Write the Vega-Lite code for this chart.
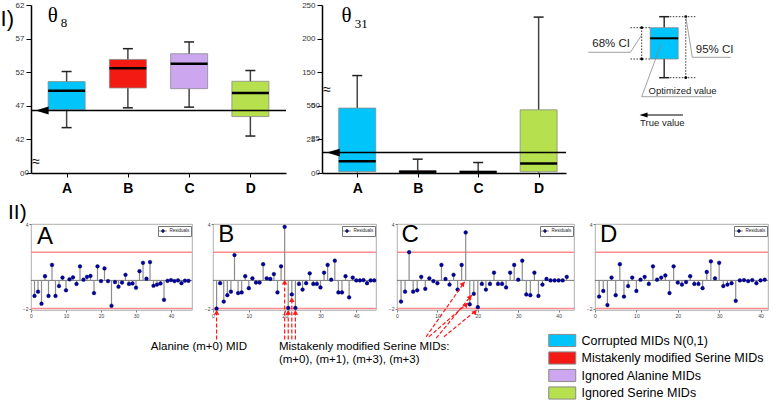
{
 "$schema": "https://vega.github.io/schema/vega-lite/v6.json",
 "padding": {"left": 0, "top": 1, "right": 0, "bottom": 0},
 "background": "white",
 "config": {"view": {"stroke": null}, "font": "Liberation Sans", "axis": {"grid": false}},
 "datasets": {
  "theta8": [
   {"method": "A", "pos": 1, "group": "Corrupted MIDs N(0,1)", "lo": 43.75, "q1": 46.4, "med": 49.25, "q3": 50.6, "hi": 52.1},
   {"method": "B", "pos": 2, "group": "Mistakenly modified Serine MIDs", "lo": 46.7, "q1": 49.65, "med": 52.6, "q3": 53.9, "hi": 55.5},
   {"method": "C", "pos": 3, "group": "Ignored Alanine MIDs", "lo": 46.8, "q1": 49.55, "med": 53.25, "q3": 54.75, "hi": 56.5},
   {"method": "D", "pos": 4, "group": "Ignored Serine MIDs", "lo": 42.5, "q1": 45.4, "med": 48.9, "q3": 50.65, "hi": 52.25}
  ],
  "theta31": [
   {"method": "A", "pos": 1, "group": "Corrupted MIDs N(0,1)", "lo": 0.3, "q1": 1, "med": 8.8, "q3": 48.3, "hi": 145},
   {"method": "B", "pos": 2, "group": "Mistakenly modified Serine MIDs", "lo": 0.2, "q1": 0.3, "med": 1, "q3": 1.6, "hi": 10.3},
   {"method": "C", "pos": 3, "group": "Ignored Alanine MIDs", "lo": 0.2, "q1": 0.3, "med": 0.8, "q3": 1.3, "hi": 7.8},
   {"method": "D", "pos": 4, "group": "Ignored Serine MIDs", "lo": 0.3, "q1": 1, "med": 7.1, "q3": 47, "hi": 232}
  ],
  "resA": [{"i":1,"r":-1.1},{"i":2,"r":-0.8},{"i":3,"r":-1.65},{"i":4,"r":0.3},{"i":5,"r":-1.1},{"i":6,"r":1.1},{"i":7,"r":-1.1},{"i":8,"r":-0.4},{"i":9,"r":0.2},{"i":10,"r":-0.7},{"i":11,"r":0.08},{"i":12,"r":0.22},{"i":13,"r":-0.25},{"i":14,"r":1.0},{"i":15,"r":0.05},{"i":16,"r":0.25},{"i":17,"r":0.32},{"i":18,"r":-0.9},{"i":19,"r":1.0},{"i":20,"r":-0.05},{"i":21,"r":0.85},{"i":22,"r":-0.05},{"i":23,"r":-1.8},{"i":24,"r":-0.12},{"i":25,"r":-0.45},{"i":26,"r":-0.15},{"i":27,"r":0.4},{"i":28,"r":-0.25},{"i":29,"r":-0.22},{"i":30,"r":-0.52},{"i":31,"r":0.65},{"i":32,"r":1.25},{"i":33,"r":0.12},{"i":34,"r":1.3},{"i":35,"r":-0.38},{"i":36,"r":-0.3},{"i":37,"r":-0.22},{"i":38,"r":-1.38},{"i":39,"r":-0.03},{"i":40,"r":0.02},{"i":41,"r":-0.05},{"i":42,"r":0.0},{"i":43,"r":-0.2},{"i":44,"r":-0.02},{"i":45,"r":-0.03}],
  "resB": [{"i":1,"r":-2.0},{"i":2,"r":-0.2},{"i":3,"r":-1.5},{"i":4,"r":-1.05},{"i":5,"r":-0.8},{"i":6,"r":1.8},{"i":7,"r":-0.9},{"i":8,"r":-0.85},{"i":9,"r":0.3},{"i":10,"r":-0.55},{"i":11,"r":0.15},{"i":12,"r":-0.15},{"i":13,"r":-0.15},{"i":14,"r":1.15},{"i":15,"r":0.15},{"i":16,"r":0.1},{"i":17,"r":0.45},{"i":18,"r":-0.85},{"i":19,"r":1.0},{"i":20,"r":3.8},{"i":21,"r":-1.95},{"i":22,"r":-1.0},{"i":23,"r":-1.95},{"i":24,"r":-0.25},{"i":25,"r":-0.65},{"i":26,"r":-0.2},{"i":27,"r":0.5},{"i":28,"r":-0.25},{"i":29,"r":-0.25},{"i":30,"r":-0.5},{"i":31,"r":0.55},{"i":32,"r":1.1},{"i":33,"r":0.05},{"i":34,"r":1.4},{"i":35,"r":-0.85},{"i":36,"r":-0.85},{"i":37,"r":0.3},{"i":38,"r":-1.2},{"i":39,"r":0.2},{"i":40,"r":0.0},{"i":41,"r":0.0},{"i":42,"r":0.02},{"i":43,"r":-0.2},{"i":44,"r":0.0},{"i":45,"r":0.0}],
  "resC": [{"i":1,"r":-1.5},{"i":2,"r":-0.8},{"i":3,"r":2.0},{"i":4,"r":-0.8},{"i":5,"r":-0.7},{"i":6,"r":0.25},{"i":7,"r":-0.6},{"i":8,"r":0.15},{"i":9,"r":-0.05},{"i":10,"r":-0.2},{"i":11,"r":1.1},{"i":12,"r":0.1},{"i":13,"r":-0.3},{"i":14,"r":0.4},{"i":15,"r":-0.65},{"i":16,"r":1.1},{"i":17,"r":3.4},{"i":18,"r":-1.7},{"i":19,"r":-0.95},{"i":20,"r":-1.9},{"i":21,"r":-0.25},{"i":22,"r":-0.65},{"i":23,"r":-0.25},{"i":24,"r":0.55},{"i":25,"r":-0.25},{"i":26,"r":-0.25},{"i":27,"r":-0.5},{"i":28,"r":0.55},{"i":29,"r":1.1},{"i":30,"r":0.05},{"i":31,"r":1.4},{"i":32,"r":-1.0},{"i":33,"r":-1.05},{"i":34,"r":0.55},{"i":35,"r":-1.1},{"i":36,"r":-0.3},{"i":37,"r":0.1},{"i":38,"r":0.0},{"i":39,"r":0.0},{"i":40,"r":0.0},{"i":41,"r":0.0},{"i":42,"r":0.25}],
  "resD": [{"i":1,"r":-1.15},{"i":2,"r":-0.75},{"i":3,"r":-1.75},{"i":4,"r":0.2},{"i":5,"r":-1.05},{"i":6,"r":1.15},{"i":7,"r":-1.15},{"i":8,"r":-0.4},{"i":9,"r":0.2},{"i":10,"r":-0.75},{"i":11,"r":0.05},{"i":12,"r":0.25},{"i":13,"r":-0.25},{"i":14,"r":1.0},{"i":15,"r":0.05},{"i":16,"r":0.2},{"i":17,"r":0.35},{"i":18,"r":-0.9},{"i":19,"r":1.0},{"i":20,"r":-0.15},{"i":21,"r":-0.3},{"i":22,"r":-0.12},{"i":23,"r":0.3},{"i":24,"r":-0.25},{"i":25,"r":-0.25},{"i":26,"r":-0.55},{"i":27,"r":0.6},{"i":28,"r":1.35},{"i":29,"r":0.15},{"i":30,"r":1.25},{"i":31,"r":-0.4},{"i":32,"r":-0.3},{"i":33,"r":-0.2},{"i":34,"r":-1.45},{"i":35,"r":0.0},{"i":36,"r":0.02},{"i":37,"r":-0.05},{"i":38,"r":0.02},{"i":39,"r":-0.2},{"i":40,"r":0.0},{"i":41,"r":0.05}]
 },
 "columns": 1,
 "spacing": 6,
 "concat": [
  {"bounds": "flush", "spacing": 36, "hconcat": [
    {"width": 255, "height": 168, "data": {"name": "theta8"},
     "layer": [
      {"mark": {"type": "rule", "color": "#444", "strokeWidth": 1.5},
       "encoding": {
        "x": {"field": "pos", "type": "quantitative", "scale": {"domain": [0.5, 4.5], "nice": false, "zero": false},
              "axis": {"values": [1, 2, 3, 4], "labelExpr": "['A','B','C','D'][datum.value - 1]", "labelFontSize": 14, "labelFontWeight": "bold", "labelColor": "black", "labelFlush": false, "tickSize": 4, "tickColor": "black", "domainColor": "black", "domainWidth": 1.5, "labelPadding": 4, "title": null}},
        "y": {"field": "lo", "type": "quantitative", "scale": {"domain": [37, 62], "nice": false, "zero": false},
              "axis": {"values": [37, 42, 47, 52, 57, 62], "tickCount": 100, "format": "d", "labelOverlap": false, "labelExpr": "datum.value == 37 ? '0' : datum.label", "tickSize": 5, "tickColor": "black", "domainColor": "black", "domainWidth": 1.5, "labelFontSize": 8, "labelColor": "#333", "labelPadding": 2, "title": null}},
        "y2": {"field": "hi"}}},
      {"mark": {"type": "bar", "orient": "vertical", "width": 37, "stroke": "#8a8a8a", "strokeWidth": 0.8, "opacity": 1},
       "encoding": {
        "x": {"field": "pos", "type": "quantitative"},
        "y": {"field": "q1", "type": "quantitative"},
        "y2": {"field": "q3"},
        "fill": {"field": "group", "type": "nominal",
                 "scale": {"domain": ["Corrupted MIDs N(0,1)", "Mistakenly modified Serine MIDs", "Ignored Alanine MIDs", "Ignored Serine MIDs"], "range": ["#00C4FA", "#F41A14", "#CDA6F0", "#B6E04E"]},
                 "legend": {"title": null, "orient": "none", "direction": "vertical", "legendX": 523.75, "legendY": 328, "padding": 0, "symbolType": "M-2,-0.9H2V0.9H-2Z", "symbolSize": 182, "symbolStrokeColor": "#5a6b8c", "symbolStrokeWidth": 1, "symbolOpacity": 1, "labelFontSize": 12.5, "labelFont": "Liberation Sans", "labelColor": "black", "labelOffset": 11.75, "rowPadding": 0.5, "labelLimit": 400}}}},
      {"mark": {"type": "tick", "orient": "horizontal", "size": 37, "thickness": 2.5, "color": "black", "opacity": 1},
       "encoding": {"x": {"field": "pos", "type": "quantitative"}, "y": {"field": "med", "type": "quantitative"}}},
      {"mark": {"type": "tick", "orient": "horizontal", "size": 10, "thickness": 1.5, "color": "#222", "opacity": 1},
       "encoding": {"x": {"field": "pos", "type": "quantitative"}, "y": {"field": "hi", "type": "quantitative"}}},
      {"mark": {"type": "tick", "orient": "horizontal", "size": 10, "thickness": 1.5, "color": "#222", "opacity": 1},
       "encoding": {"x": {"field": "pos", "type": "quantitative"}, "y": {"field": "lo", "type": "quantitative"}}},
      {"data": {"values": [{}]}, "mark": {"type": "rule", "color": "black", "strokeWidth": 1.5},
       "encoding": {"y": {"datum": 46.3, "type": "quantitative"}}},
      {"data": {"values": [{}]}, "mark": {"type": "point", "shape": "M-1,0L1,-0.6L1,0.6Z", "size": 169, "filled": true, "color": "black", "opacity": 1},
       "encoding": {"x": {"datum": 0.6, "type": "quantitative"}, "y": {"datum": 46.3, "type": "quantitative"}}},
      {"data": {"values": [{}]}, "mark": {"type": "text", "text": "≈", "fontSize": 14, "color": "black", "baseline": "middle"},
       "encoding": {"x": {"datum": 0.5, "type": "quantitative"}, "y": {"datum": 38.7, "type": "quantitative"}}},
      {"data": {"values": [{}]}, "mark": {"type": "text", "align": "right", "baseline": "middle", "fontSize": 8, "color": "#333", "dx": -7},
       "encoding": {"x": {"datum": 0.5, "type": "quantitative"}, "y": {"datum": 37, "type": "quantitative"}, "text": {"value": "0"}}},
      {"data": {"values": [{}]}, "mark": {"type": "text", "align": "left", "baseline": "middle", "font": "Liberation Serif", "fontSize": 21, "color": "black"},
       "encoding": {"x": {"datum": 0.69, "type": "quantitative"}, "y": {"datum": 60.4, "type": "quantitative"}, "text": {"value": "θ"}}},
      {"data": {"values": [{}]}, "mark": {"type": "text", "align": "left", "baseline": "middle", "font": "Liberation Serif", "fontSize": 13, "color": "black"},
       "encoding": {"x": {"datum": 0.906, "type": "quantitative"}, "y": {"datum": 59.3, "type": "quantitative"}, "text": {"value": "8"}}},
      {"data": {"values": [{}]}, "mark": {"type": "text", "align": "left", "baseline": "alphabetic", "fontSize": 22, "color": "black"},
       "encoding": {"x": {"datum": -0.078, "type": "quantitative"}, "y": {"datum": 58.9, "type": "quantitative"}, "text": {"value": "I)"}}}
     ]},
    {"width": 244, "height": 168, "data": {"name": "theta31"},
     "layer": [
      {"mark": {"type": "rule", "color": "#444", "strokeWidth": 1.5},
       "encoding": {
        "x": {"field": "pos", "type": "quantitative", "scale": {"domain": [0.5, 4.37], "nice": false, "zero": false},
              "axis": {"values": [1, 2, 3, 4], "labelExpr": "['A','B','C','D'][datum.value - 1]", "labelFontSize": 14, "labelFontWeight": "bold", "labelColor": "black", "labelFlush": false, "tickSize": 4, "tickColor": "black", "domainColor": "black", "domainWidth": 1.5, "labelPadding": 4, "title": null}},
        "y": {"field": "lo", "type": "quantitative", "scale": {"type": "linear", "domain": [0, 50, 100, 250], "range": [168, 100.8, 100.8, 0], "nice": false, "zero": false},
              "axis": {"values": [0, 25, 50, 150, 200, 250], "tickCount": 100, "format": "d", "labelOverlap": false, "tickSize": 5, "tickColor": "black", "domainColor": "black", "domainWidth": 1.5, "labelFontSize": 8, "labelColor": "#333", "labelPadding": 2, "title": null}},
        "y2": {"field": "hi"}}},
      {"mark": {"type": "bar", "orient": "vertical", "width": 37, "stroke": "#8a8a8a", "strokeWidth": 0.8, "opacity": 1},
       "encoding": {
        "x": {"field": "pos", "type": "quantitative"},
        "y": {"field": "q1", "type": "quantitative"},
        "y2": {"field": "q3"},
        "fill": {"field": "group", "type": "nominal"}}},
      {"mark": {"type": "tick", "orient": "horizontal", "size": 37, "thickness": 2.5, "color": "black", "opacity": 1},
       "encoding": {"x": {"field": "pos", "type": "quantitative"}, "y": {"field": "med", "type": "quantitative"}}},
      {"mark": {"type": "tick", "orient": "horizontal", "size": 10, "thickness": 1.5, "color": "#222", "opacity": 1},
       "encoding": {"x": {"field": "pos", "type": "quantitative"}, "y": {"field": "hi", "type": "quantitative"}}},
      {"data": {"values": [{}]}, "mark": {"type": "rule", "color": "black", "strokeWidth": 1.5},
       "encoding": {"y": {"datum": 15.2, "type": "quantitative"}}},
      {"data": {"values": [{}]}, "mark": {"type": "point", "shape": "M-1,0L1,-0.6L1,0.6Z", "size": 169, "filled": true, "color": "black", "opacity": 1},
       "encoding": {"x": {"datum": 0.603, "type": "quantitative"}, "y": {"datum": 15.2, "type": "quantitative"}}},
      {"data": {"values": [{}]}, "mark": {"type": "text", "text": "≈", "fontSize": 14, "color": "black", "baseline": "middle"},
       "encoding": {"x": {"datum": 0.5, "type": "quantitative"}, "y": {"datum": 123, "type": "quantitative"}}},
      {"data": {"values": [{}]}, "mark": {"type": "text", "align": "right", "baseline": "middle", "fontSize": 8, "color": "#333", "dx": -7},
       "encoding": {"x": {"datum": 0.5, "type": "quantitative"}, "y": {"datum": 0, "type": "quantitative"}, "text": {"value": "0"}}},
      {"data": {"values": [{}]}, "mark": {"type": "text", "align": "right", "baseline": "middle", "fontSize": 8, "color": "#333", "dx": -7},
       "encoding": {"x": {"datum": 0.5, "type": "quantitative"}, "y": {"datum": 25, "type": "quantitative"}, "text": {"value": "25"}}},
      {"data": {"values": [{}]}, "mark": {"type": "text", "align": "right", "baseline": "middle", "fontSize": 8, "color": "#333", "dx": -7},
       "encoding": {"x": {"datum": 0.5, "type": "quantitative"}, "y": {"datum": 50, "type": "quantitative"}, "text": {"value": "50"}}},
      {"data": {"values": [{}]}, "mark": {"type": "text", "align": "left", "baseline": "middle", "font": "Liberation Serif", "fontSize": 21, "color": "black"},
       "encoding": {"x": {"datum": 0.738, "type": "quantitative"}, "y": {"datum": 233, "type": "quantitative"}, "text": {"value": "θ"}}},
      {"data": {"values": [{}]}, "mark": {"type": "text", "align": "left", "baseline": "middle", "font": "Liberation Serif", "fontSize": 13, "color": "black"},
       "encoding": {"x": {"datum": 0.96, "type": "quantitative"}, "y": {"datum": 221, "type": "quantitative"}, "text": {"value": "31"}}}
     ]},
    {"width": 160, "height": 125,
     "data": {"values": [{"lo": 52.3, "q1": 71, "med": 91.7, "q3": 102.3, "hi": 113.3}]},
     "layer": [
      {"mark": {"type": "rule", "color": "black", "strokeWidth": 0.8, "strokeDash": [1.5, 1.5]},
       "encoding": {"x": {"datum": 48, "type": "quantitative", "scale": {"domain": [23, 183], "nice": false, "zero": false}, "axis": null}, "x2": {"datum": 70},
                    "y": {"field": "q3", "type": "quantitative", "scale": {"domain": [0, 125], "nice": false, "zero": false}, "axis": null}}},
      {"mark": {"type": "rule", "color": "black", "strokeWidth": 0.8, "strokeDash": [1.5, 1.5]},
       "encoding": {"x": {"datum": 48, "type": "quantitative"}, "x2": {"datum": 70}, "y": {"field": "q1", "type": "quantitative"}}},
      {"mark": {"type": "rule", "color": "black", "strokeWidth": 0.8, "strokeDash": [1.5, 1.5]},
       "encoding": {"x": {"datum": 60, "type": "quantitative"}, "y": {"field": "q1", "type": "quantitative"}, "y2": {"field": "q3"}}},
      {"mark": {"type": "rule", "color": "black", "strokeWidth": 0.8, "strokeDash": [1.5, 1.5]},
       "encoding": {"x": {"datum": 90, "type": "quantitative"}, "x2": {"datum": 118}, "y": {"field": "hi", "type": "quantitative"}}},
      {"mark": {"type": "rule", "color": "black", "strokeWidth": 0.8, "strokeDash": [1.5, 1.5]},
       "encoding": {"x": {"datum": 90, "type": "quantitative"}, "x2": {"datum": 118}, "y": {"field": "lo", "type": "quantitative"}}},
      {"mark": {"type": "rule", "color": "black", "strokeWidth": 0.8, "strokeDash": [1.5, 1.5]},
       "encoding": {"x": {"datum": 107, "type": "quantitative"}, "y": {"field": "lo", "type": "quantitative"}, "y2": {"field": "hi"}}},
      {"mark": {"type": "point", "filled": true, "size": 8, "color": "black", "opacity": 1},
       "encoding": {"x": {"datum": 60, "type": "quantitative"}, "y": {"field": "q3", "type": "quantitative"}}},
      {"mark": {"type": "point", "filled": true, "size": 8, "color": "black", "opacity": 1},
       "encoding": {"x": {"datum": 60, "type": "quantitative"}, "y": {"field": "q1", "type": "quantitative"}}},
      {"mark": {"type": "point", "filled": true, "size": 8, "color": "black", "opacity": 1},
       "encoding": {"x": {"datum": 107, "type": "quantitative"}, "y": {"field": "hi", "type": "quantitative"}}},
      {"mark": {"type": "point", "filled": true, "size": 8, "color": "black", "opacity": 1},
       "encoding": {"x": {"datum": 107, "type": "quantitative"}, "y": {"field": "lo", "type": "quantitative"}}},
      {"mark": {"type": "rule", "color": "#333", "strokeWidth": 1.5},
       "encoding": {"x": {"datum": 84, "type": "quantitative"}, "y": {"field": "q3", "type": "quantitative"}, "y2": {"field": "hi"}}},
      {"mark": {"type": "rule", "color": "#333", "strokeWidth": 1.5},
       "encoding": {"x": {"datum": 84, "type": "quantitative"}, "y": {"field": "lo", "type": "quantitative"}, "y2": {"field": "q1"}}},
      {"mark": {"type": "tick", "orient": "horizontal", "size": 10, "thickness": 1.5, "color": "#222", "opacity": 1},
       "encoding": {"x": {"datum": 84, "type": "quantitative"}, "y": {"field": "hi", "type": "quantitative"}}},
      {"mark": {"type": "tick", "orient": "horizontal", "size": 10, "thickness": 1.5, "color": "#222", "opacity": 1},
       "encoding": {"x": {"datum": 84, "type": "quantitative"}, "y": {"field": "lo", "type": "quantitative"}}},
      {"mark": {"type": "bar", "orient": "vertical", "width": 28, "fill": "#00C4FA", "stroke": "#8a8a8a", "strokeWidth": 0.8, "opacity": 1},
       "encoding": {"x": {"datum": 84, "type": "quantitative"}, "y": {"field": "q1", "type": "quantitative"}, "y2": {"field": "q3"}}},
      {"mark": {"type": "tick", "orient": "horizontal", "size": 28, "thickness": 2, "color": "black", "opacity": 1},
       "encoding": {"x": {"datum": 84, "type": "quantitative"}, "y": {"field": "med", "type": "quantitative"}}},
      {"mark": {"type": "rule", "color": "#888", "strokeWidth": 0.8},
       "encoding": {"x": {"datum": 3, "type": "quantitative"}, "x2": {"datum": 48}, "y": {"datum": 77.7, "type": "quantitative"}}},
      {"mark": {"type": "rule", "color": "#888", "strokeWidth": 0.8},
       "encoding": {"x": {"datum": 48, "type": "quantitative"}, "x2": {"datum": 60}, "y": {"datum": 77.7, "type": "quantitative"}, "y2": {"datum": 95}}},
      {"mark": {"type": "rule", "color": "#888", "strokeWidth": 0.8},
       "encoding": {"x": {"datum": 114, "type": "quantitative"}, "x2": {"datum": 155}, "y": {"datum": 72.7, "type": "quantitative"}}},
      {"mark": {"type": "rule", "color": "#888", "strokeWidth": 0.8},
       "encoding": {"x": {"datum": 107, "type": "quantitative"}, "x2": {"datum": 114}, "y": {"datum": 113.3, "type": "quantitative"}, "y2": {"datum": 72.7}}},
      {"mark": {"type": "rule", "color": "#888", "strokeWidth": 0.8},
       "encoding": {"x": {"datum": 60, "type": "quantitative"}, "x2": {"datum": 135}, "y": {"datum": 33.3, "type": "quantitative"}}},
      {"mark": {"type": "rule", "color": "#888", "strokeWidth": 0.8},
       "encoding": {"x": {"datum": 60, "type": "quantitative"}, "x2": {"datum": 81}, "y": {"datum": 33.3, "type": "quantitative"}, "y2": {"datum": 86.7}}},
      {"mark": {"type": "rule", "color": "black", "strokeWidth": 1.2},
       "encoding": {"x": {"datum": 60, "type": "quantitative"}, "x2": {"datum": 104}, "y": {"datum": 15, "type": "quantitative"}}},
      {"mark": {"type": "point", "shape": "M-1,0L1,-0.6L1,0.6Z", "size": 64, "filled": true, "color": "black", "opacity": 1},
       "encoding": {"x": {"datum": 62, "type": "quantitative"}, "y": {"datum": 15, "type": "quantitative"}}},
      {"mark": {"type": "text", "align": "left", "baseline": "middle", "fontSize": 11.5, "color": "#222"},
       "encoding": {"x": {"datum": 7.3, "type": "quantitative"}, "y": {"datum": 86.5, "type": "quantitative"}, "text": {"value": "68% CI"}}},
      {"mark": {"type": "text", "align": "left", "baseline": "middle", "fontSize": 11.5, "color": "#222"},
       "encoding": {"x": {"datum": 117.7, "type": "quantitative"}, "y": {"datum": 80, "type": "quantitative"}, "text": {"value": "95% CI"}}},
      {"mark": {"type": "text", "align": "left", "baseline": "middle", "fontSize": 9.5, "color": "#222"},
       "encoding": {"x": {"datum": 67.3, "type": "quantitative"}, "y": {"datum": 39, "type": "quantitative"}, "text": {"value": "Optimized value"}}},
      {"mark": {"type": "text", "align": "left", "baseline": "middle", "fontSize": 9.5, "color": "#222"},
       "encoding": {"x": {"datum": 58.3, "type": "quantitative"}, "y": {"datum": 6.7, "type": "quantitative"}, "text": {"value": "True value"}}}
     ]}
  ]},
  {"bounds": "flush", "spacing": 21,
   "resolve": {"scale": {"color": "independent"}, "legend": {"color": "independent"}},
   "hconcat": [
    {"width": 161, "height": 86, "view": {"stroke": "#9a9a9a", "strokeWidth": 0.8}, "data": {"name": "resA"},
     "layer": [
      {"data": {"values": [{}]}, "mark": {"type": "rule", "color": "#FF8C8C", "strokeWidth": 1.5}, "encoding": {"y": {"datum": 2, "type": "quantitative"}}},
      {"data": {"values": [{}]}, "mark": {"type": "rule", "color": "#FF8C8C", "strokeWidth": 1.5}, "encoding": {"y": {"datum": -2, "type": "quantitative"}}},
      {"data": {"values": [{}]}, "mark": {"type": "rule", "color": "#555", "strokeWidth": 0.8}, "encoding": {"y": {"datum": 0, "type": "quantitative"}}},
      {"mark": {"type": "rule", "color": "#8c8c8c", "strokeWidth": 1.2},
       "encoding": {
        "x": {"field": "i", "type": "quantitative", "scale": {"domain": [0, 46], "nice": false, "zero": false},
              "axis": {"values": [0, 5, 10, 15, 20, 25, 30, 35, 40, 45], "labelFontSize": 5, "labelColor": "#444", "tickSize": 2, "tickColor": "#777", "domain": false, "labelPadding": 1, "labelFlush": false, "title": null}},
        "y": {"field": "r", "type": "quantitative", "scale": {"domain": [-2.1, 4], "nice": false, "zero": false},
              "axis": {"values": [-2, -1, 0, 1, 2, 3, 4], "labelFontSize": 5, "labelColor": "#444", "tickSize": 2, "tickColor": "#777", "domain": false, "labelPadding": 1, "title": null}},
        "y2": {"datum": 0}}},
      {"mark": {"type": "point", "filled": true, "size": 14, "opacity": 1, "stroke": "#00003a", "strokeWidth": 0.4},
       "encoding": {"x": {"field": "i", "type": "quantitative"}, "y": {"field": "r", "type": "quantitative"},
        "color": {"datum": "Residuals", "type": "nominal", "scale": {"range": ["#0000A8"]},
                  "legend": {"title": null, "orient": "top-right", "offset": 1.5, "padding": 1.5, "strokeColor": "#777", "fillColor": "white", "labelFontSize": 4.5, "labelColor": "#222", "labelOffset": 3, "symbolType": "M-1.3,0H1.3M-0.5,0A0.5,0.5,0,1,1,0.5,0A0.5,0.5,0,1,1,-0.5,0", "symbolSize": 36, "symbolStrokeColor": "#333", "symbolStrokeWidth": 0.6, "cornerRadius": 0}}}},
      {"data": {"values": [{}]}, "mark": {"type": "text", "align": "left", "baseline": "middle", "fontSize": 24, "color": "black"},
       "encoding": {"x": {"datum": 1.7, "type": "quantitative"}, "y": {"datum": 3.1, "type": "quantitative"}, "text": {"value": "A"}}},
      {"data": {"values": [{}]}, "mark": {"type": "text", "align": "left", "baseline": "alphabetic", "fontSize": 21, "color": "black"},
       "encoding": {"x": {"datum": -6.57, "type": "quantitative"}, "y": {"datum": 4.355, "type": "quantitative"}, "text": {"value": "II)"}}}
     ]},
    {"width": 163, "height": 86, "view": {"stroke": "#9a9a9a", "strokeWidth": 0.8}, "data": {"name": "resB"},
     "layer": [
      {"data": {"values": [{}]}, "mark": {"type": "rule", "color": "#FF8C8C", "strokeWidth": 1.5}, "encoding": {"y": {"datum": 2, "type": "quantitative"}}},
      {"data": {"values": [{}]}, "mark": {"type": "rule", "color": "#FF8C8C", "strokeWidth": 1.5}, "encoding": {"y": {"datum": -2, "type": "quantitative"}}},
      {"data": {"values": [{}]}, "mark": {"type": "rule", "color": "#555", "strokeWidth": 0.8}, "encoding": {"y": {"datum": 0, "type": "quantitative"}}},
      {"mark": {"type": "rule", "color": "#8c8c8c", "strokeWidth": 1.2},
       "encoding": {
        "x": {"field": "i", "type": "quantitative", "scale": {"domain": [0, 45.5], "nice": false, "zero": false},
              "axis": {"values": [0, 5, 10, 15, 20, 25, 30, 35, 40, 45], "labelFontSize": 5, "labelColor": "#444", "tickSize": 2, "tickColor": "#777", "domain": false, "labelPadding": 1, "labelFlush": false, "title": null}},
        "y": {"field": "r", "type": "quantitative", "scale": {"domain": [-2.1, 4], "nice": false, "zero": false},
              "axis": {"values": [-2, -1, 0, 1, 2, 3, 4], "labelFontSize": 5, "labelColor": "#444", "tickSize": 2, "tickColor": "#777", "domain": false, "labelPadding": 1, "title": null}},
        "y2": {"datum": 0}}},
      {"mark": {"type": "point", "filled": true, "size": 14, "opacity": 1, "stroke": "#00003a", "strokeWidth": 0.4},
       "encoding": {"x": {"field": "i", "type": "quantitative"}, "y": {"field": "r", "type": "quantitative"},
        "color": {"datum": "Residuals", "type": "nominal", "scale": {"range": ["#0000A8"]},
                  "legend": {"title": null, "orient": "top-right", "offset": 1.5, "padding": 1.5, "strokeColor": "#777", "fillColor": "white", "labelFontSize": 4.5, "labelColor": "#222", "labelOffset": 3, "symbolType": "M-1.3,0H1.3M-0.5,0A0.5,0.5,0,1,1,0.5,0A0.5,0.5,0,1,1,-0.5,0", "symbolSize": 36, "symbolStrokeColor": "#333", "symbolStrokeWidth": 0.6, "cornerRadius": 0}}}},
      {"data": {"values": [{}]}, "mark": {"type": "text", "align": "left", "baseline": "middle", "fontSize": 24, "color": "black"},
       "encoding": {"x": {"datum": 1.5, "type": "quantitative"}, "y": {"datum": 3.2, "type": "quantitative"}, "text": {"value": "B"}}},
      {"data": {"values": [{"mid": 1, "from": -4.2, "tip": -2.1}, {"mid": 20, "from": -4.2, "tip": 0.05}, {"mid": 21, "from": -4.2, "tip": -2.1}, {"mid": 22, "from": -4.2, "tip": -1.2}, {"mid": 23, "from": -4.2, "tip": -2.1}]},
       "mark": {"type": "rule", "color": "#FF1A1A", "strokeWidth": 1.2, "strokeDash": [4, 2]},
       "encoding": {"x": {"field": "mid", "type": "quantitative"}, "y": {"field": "from", "type": "quantitative"}, "y2": {"field": "tip"}}},
      {"data": {"values": [{"mid": 1, "tip": -2.1}, {"mid": 20, "tip": 0.05}, {"mid": 21, "tip": -2.1}, {"mid": 22, "tip": -1.2}, {"mid": 23, "tip": -2.1}]},
       "mark": {"type": "point", "shape": "triangle-up", "size": 30, "filled": true, "color": "#FF1A1A", "opacity": 1, "yOffset": 2.4},
       "encoding": {"x": {"field": "mid", "type": "quantitative"}, "y": {"field": "tip", "type": "quantitative"}}},
      {"data": {"values": [{}]}, "mark": {"type": "text", "align": "right", "baseline": "middle", "fontSize": 11.5, "color": "black"},
       "encoding": {"x": {"datum": 9.5, "type": "quantitative"}, "y": {"datum": -4.75, "type": "quantitative"}, "text": {"value": "Alanine (m+0) MID"}}},
      {"data": {"values": [{}]}, "mark": {"type": "text", "align": "left", "baseline": "middle", "fontSize": 11.5, "color": "black"},
       "encoding": {"x": {"datum": 18.4, "type": "quantitative"}, "y": {"datum": -4.75, "type": "quantitative"}, "text": {"value": "Mistakenly modified Serine MIDs:"}}},
      {"data": {"values": [{}]}, "mark": {"type": "text", "align": "left", "baseline": "middle", "fontSize": 11.5, "color": "black"},
       "encoding": {"x": {"datum": 18.4, "type": "quantitative"}, "y": {"datum": -5.68, "type": "quantitative"}, "text": {"value": "(m+0), (m+1), (m+3), (m+3)"}}}
     ]},
    {"width": 177, "height": 86, "view": {"stroke": "#9a9a9a", "strokeWidth": 0.8}, "data": {"name": "resC"},
     "layer": [
      {"data": {"values": [{}]}, "mark": {"type": "rule", "color": "#FF8C8C", "strokeWidth": 1.5}, "encoding": {"y": {"datum": 2, "type": "quantitative"}}},
      {"data": {"values": [{}]}, "mark": {"type": "rule", "color": "#FF8C8C", "strokeWidth": 1.5}, "encoding": {"y": {"datum": -2, "type": "quantitative"}}},
      {"data": {"values": [{}]}, "mark": {"type": "rule", "color": "#555", "strokeWidth": 0.8}, "encoding": {"y": {"datum": 0, "type": "quantitative"}}},
      {"mark": {"type": "rule", "color": "#8c8c8c", "strokeWidth": 1.2},
       "encoding": {
        "x": {"field": "i", "type": "quantitative", "scale": {"domain": [0, 43.8], "nice": false, "zero": false},
              "axis": {"values": [0, 5, 10, 15, 20, 25, 30, 35, 40], "labelFontSize": 5, "labelColor": "#444", "tickSize": 2, "tickColor": "#777", "domain": false, "labelPadding": 1, "labelFlush": false, "title": null}},
        "y": {"field": "r", "type": "quantitative", "scale": {"domain": [-2.1, 4], "nice": false, "zero": false},
              "axis": {"values": [-2, -1, 0, 1, 2, 3, 4], "labelFontSize": 5, "labelColor": "#444", "tickSize": 2, "tickColor": "#777", "domain": false, "labelPadding": 1, "title": null}},
        "y2": {"datum": 0}}},
      {"mark": {"type": "point", "filled": true, "size": 14, "opacity": 1, "stroke": "#00003a", "strokeWidth": 0.4},
       "encoding": {"x": {"field": "i", "type": "quantitative"}, "y": {"field": "r", "type": "quantitative"},
        "color": {"datum": "Residuals", "type": "nominal", "scale": {"range": ["#0000A8"]},
                  "legend": {"title": null, "orient": "top-right", "offset": 1.5, "padding": 1.5, "strokeColor": "#777", "fillColor": "white", "labelFontSize": 4.5, "labelColor": "#222", "labelOffset": 3, "symbolType": "M-1.3,0H1.3M-0.5,0A0.5,0.5,0,1,1,0.5,0A0.5,0.5,0,1,1,-0.5,0", "symbolSize": 36, "symbolStrokeColor": "#333", "symbolStrokeWidth": 0.6, "cornerRadius": 0}}}},
      {"data": {"values": [{}]}, "mark": {"type": "text", "align": "left", "baseline": "middle", "fontSize": 24, "color": "black"},
       "encoding": {"x": {"datum": 1.1, "type": "quantitative"}, "y": {"datum": 3.2, "type": "quantitative"}, "text": {"value": "C"}}},
      {"data": {"values": [{"x0": 7.2, "y0": -4.0, "x1": 16.75, "y1": -0.1}, {"x0": 7.9, "y0": -4.0, "x1": 17.5, "y1": -1.6}, {"x0": 9.7, "y0": -4.1, "x1": 18.5, "y1": -1.04}, {"x0": 11.6, "y0": -4.0, "x1": 19.7, "y1": -2.1}]},
       "mark": {"type": "rule", "color": "#FF1A1A", "strokeWidth": 1.2, "strokeDash": [4, 2]},
       "encoding": {"x": {"field": "x0", "type": "quantitative"}, "y": {"field": "y0", "type": "quantitative"}, "x2": {"field": "x1"}, "y2": {"field": "y1"}}},
      {"data": {"values": [{"x1": 16.75, "y1": -0.1}, {"x1": 17.5, "y1": -1.6}, {"x1": 18.5, "y1": -1.04}, {"x1": 19.7, "y1": -2.1}]},
       "mark": {"type": "point", "shape": "triangle-up", "size": 30, "filled": true, "color": "#FF1A1A", "opacity": 1, "angle": 40, "xOffset": -1.5, "yOffset": 1.8},
       "encoding": {"x": {"field": "x1", "type": "quantitative"}, "y": {"field": "y1", "type": "quantitative"}}}
     ]},
    {"width": 173, "height": 86, "view": {"stroke": "#9a9a9a", "strokeWidth": 0.8}, "data": {"name": "resD"},
     "layer": [
      {"data": {"values": [{}]}, "mark": {"type": "rule", "color": "#FF8C8C", "strokeWidth": 1.5}, "encoding": {"y": {"datum": 2, "type": "quantitative"}}},
      {"data": {"values": [{}]}, "mark": {"type": "rule", "color": "#FF8C8C", "strokeWidth": 1.5}, "encoding": {"y": {"datum": -2, "type": "quantitative"}}},
      {"data": {"values": [{}]}, "mark": {"type": "rule", "color": "#555", "strokeWidth": 0.8}, "encoding": {"y": {"datum": 0, "type": "quantitative"}}},
      {"mark": {"type": "rule", "color": "#8c8c8c", "strokeWidth": 1.2},
       "encoding": {
        "x": {"field": "i", "type": "quantitative", "scale": {"domain": [0, 41.8], "nice": false, "zero": false},
              "axis": {"values": [0, 5, 10, 15, 20, 25, 30, 35, 40], "labelFontSize": 5, "labelColor": "#444", "tickSize": 2, "tickColor": "#777", "domain": false, "labelPadding": 1, "labelFlush": false, "title": null}},
        "y": {"field": "r", "type": "quantitative", "scale": {"domain": [-2.1, 4], "nice": false, "zero": false},
              "axis": {"values": [-2, -1, 0, 1, 2, 3, 4], "labelFontSize": 5, "labelColor": "#444", "tickSize": 2, "tickColor": "#777", "domain": false, "labelPadding": 1, "title": null}},
        "y2": {"datum": 0}}},
      {"mark": {"type": "point", "filled": true, "size": 14, "opacity": 1, "stroke": "#00003a", "strokeWidth": 0.4},
       "encoding": {"x": {"field": "i", "type": "quantitative"}, "y": {"field": "r", "type": "quantitative"},
        "color": {"datum": "Residuals", "type": "nominal", "scale": {"range": ["#0000A8"]},
                  "legend": {"title": null, "orient": "top-right", "offset": 1.5, "padding": 1.5, "strokeColor": "#777", "fillColor": "white", "labelFontSize": 4.5, "labelColor": "#222", "labelOffset": 3, "symbolType": "M-1.3,0H1.3M-0.5,0A0.5,0.5,0,1,1,0.5,0A0.5,0.5,0,1,1,-0.5,0", "symbolSize": 36, "symbolStrokeColor": "#333", "symbolStrokeWidth": 0.6, "cornerRadius": 0}}}},
      {"data": {"values": [{}]}, "mark": {"type": "text", "align": "left", "baseline": "middle", "fontSize": 24, "color": "black"},
       "encoding": {"x": {"datum": 1.2, "type": "quantitative"}, "y": {"datum": 3.2, "type": "quantitative"}, "text": {"value": "D"}}}
     ]}
  ]}
 ]
}
